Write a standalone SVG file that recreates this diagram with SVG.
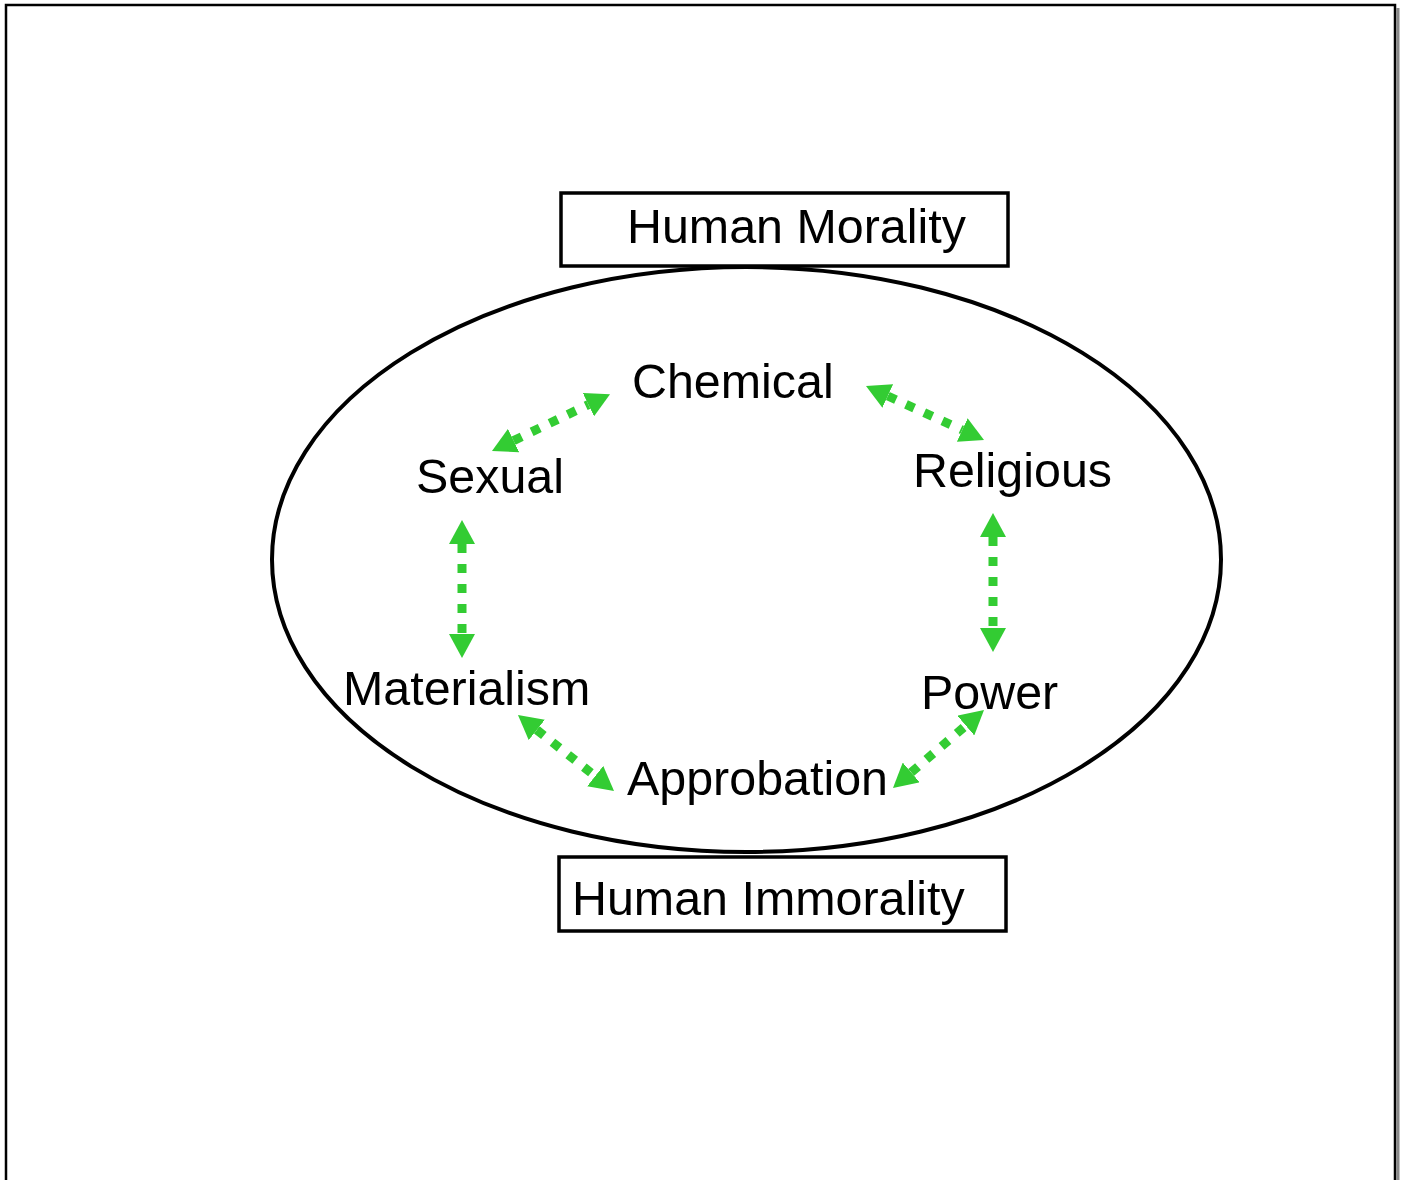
<svg xmlns="http://www.w3.org/2000/svg" width="1404" height="1180" viewBox="0 0 1404 1180">
<style>
.lbl{font-family:"Liberation Sans",Arial,sans-serif;font-size:48.4px;fill:#000}
.box{fill:#fff;stroke:#000;stroke-width:3.5}
.conn{stroke:#33cc33;stroke-width:9;stroke-dasharray:9 11;fill:none;marker-start:url(#ah);marker-end:url(#ah)}
</style>
<defs>
<marker id="ah" markerUnits="userSpaceOnUse" markerWidth="24" markerHeight="26" refX="0" refY="13" orient="auto-start-reverse" viewBox="0 0 24 26">
<path d="M0,0 L24,13 L0,26 z" fill="#33cc33"/>
</marker>
</defs>
<rect width="1404" height="1180" fill="#fff"/>
<g id="page">
<path d="M1398,8 V1180" stroke="#888" stroke-width="3" fill="none"/>
<path d="M6,1185 V5 H1395 V1185" stroke="#000" stroke-width="2.5" fill="none"/>
</g>
<g id="ellipse">
<ellipse cx="746.5" cy="559.5" rx="474.5" ry="292.5" fill="none" stroke="#000" stroke-width="4"/>
</g>
<g id="morality"><rect class="box" x="561" y="193" width="447" height="73"/><text class="lbl" x="627" y="243">Human Morality</text></g>
<g id="immorality"><rect class="box" x="559" y="857" width="447" height="74"/><text class="lbl" x="572" y="915">Human Immorality</text></g>
<g id="chemical"><text class="lbl" x="632" y="398">Chemical</text></g>
<g id="sexual"><text class="lbl" x="416" y="493">Sexual</text></g>
<g id="religious"><text class="lbl" x="913" y="487">Religious</text></g>
<g id="materialism"><text class="lbl" x="343" y="705">Materialism</text></g>
<g id="power"><text class="lbl" x="921" y="709">Power</text></g>
<g id="approbation"><text class="lbl" x="627" y="795">Approbation</text></g>
<g id="connectors">
<path class="conn" d="M513.6,440.6 L588.4,404.6"/>
<path class="conn" d="M462,544 L462,634"/>
<path class="conn" d="M887.8,396 L962.2,430"/>
<path class="conn" d="M993,537 L993,628"/>
<path class="conn" d="M536.8,729.9 L595.2,776.1"/>
<path class="conn" d="M911.2,772.4 L965.8,725.6"/>
</g>
</svg>
